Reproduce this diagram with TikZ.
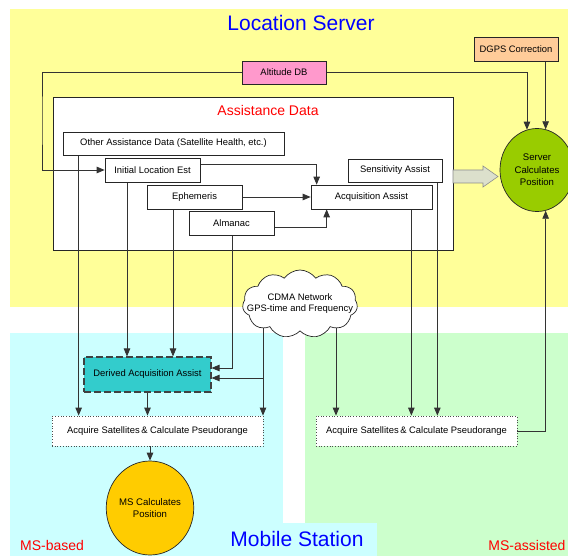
\documentclass[tikz,border=0pt]{standalone}
\usepackage{fontspec}
\setmainfont{Liberation Sans}
\usepackage{tikz}
\usetikzlibrary{shapes.geometric,shapes.symbols,arrows.meta,calc}
\pgfdeclarelayer{back}
\pgfdeclarelayer{wires}
\pgfsetlayers{back,wires,main}

\definecolor{srvyellow}{HTML}{FFFF99}
\definecolor{msbcyan}{HTML}{CCFFFF}
\definecolor{msagreen}{HTML}{CCFFCC}
\definecolor{altpink}{HTML}{FF99CC}
\definecolor{dgpspeach}{HTML}{FFCC99}
\definecolor{dertea}{HTML}{33CCCC}
\definecolor{srvgreen}{HTML}{99CC00}
\definecolor{msorange}{HTML}{FFCC00}
\definecolor{fatgrey}{HTML}{DCE0CC}
\newcommand{\boxfont}{\fontsize{9.4}{11}\selectfont}
\newcommand{\tight}[1]{\makebox[0pt]{#1}}

\tikzset{
  infobox/.style={draw=black!85,fill=white,line width=0.7pt,inner sep=0pt,font=\boxfont},
  calcbox/.style={infobox,draw=black!70,dotted,line width=0.8pt},
  calcell/.style={ellipse,draw=black!85,line width=0.7pt,inner sep=0pt,align=center,
    font=\fontsize{9.6}{12.5}\selectfont},
  wire/.style={draw=black!80,line width=0.8pt,-{Triangle[length=8pt,width=6.5pt]}},
  bigtitle/.style={text=blue,font=\fontsize{21}{24}\selectfont},
  redtitle/.style={text=red,font=\fontsize{14}{16}\selectfont}
}

\begin{document}
\begin{tikzpicture}[x=1pt,y=-1pt]
\useasboundingbox (0,0) rectangle (568,556);

% regions
\begin{pgfonlayer}{back}
\fill[srvyellow] (10,9) rectangle (568,307);
\fill[msagreen] (305,333) rectangle (568,556);
\fill[msbcyan] (10,333) rectangle (283,556);
\fill[msbcyan] (283,523) rectangle (377,556);
\node[draw=black!85,fill=white,line width=0.7pt,minimum width=400,minimum height=153,inner sep=0pt]
  (adbox) at (253,173.5) {};
\end{pgfonlayer}

% titles
\node[bigtitle] (lstitle) at (301,23) {Location Server};
\node[redtitle] (adtitle) at (268,110) {Assistance Data};
\node[bigtitle] (mstitle) at (297,539) {Mobile Station};
\node[redtitle] (msbtitle) at (52,545) {MS-based};
\node[redtitle] (msatitle) at (527,545) {MS-assisted};

% server side
\node[infobox,fill=altpink,minimum width=84,minimum height=23] (alt) at (284,72.5) {Altitude DB};
\node[infobox,fill=dgpspeach,minimum width=84,minimum height=24] (dgps) at (516,49) {DGPS Correction};
\node[calcell,fill=srvgreen,minimum width=74,minimum height=83] (srv) at (537,170) {Server\\Calculates\\Position};

\node[infobox,minimum width=221,minimum height=23] (oad) at (173.5,143.5) {Other Assistance Data (Satellite Health, etc.)};
\node[infobox,minimum width=95,minimum height=24] (ile) at (152.5,170) {Initial Location Est};
\node[infobox,minimum width=95,minimum height=24] (eph) at (194.5,197) {Ephemeris};
\node[infobox,minimum width=85,minimum height=24] (alm) at (231.5,223) {Almanac};
\node[infobox,minimum width=94,minimum height=23] (sen) at (395,170.5) {Sensitivity Assist};
\node[infobox,minimum width=121,minimum height=24] (acq) at (371.5,197) {Acquisition Assist};

% wide arrow from the assistance data to the server
\filldraw[draw=black!45,fill=fatgrey,line width=0.6pt]
  (453,170) -- (483,170) -- (483,166) -- (498,176.5) -- (483,187) -- (483,183) -- (453,183) -- cycle;

% network
\node[cloud,draw=black!85,fill=white,line width=0.7pt,cloud puffs=11,cloud puff arc=110,aspect=1.7,
  minimum width=115,minimum height=68,inner sep=0pt,align=center,font=\boxfont] (cdma) at (300,304)
  {\tight{CDMA Network}\\\tight{GPS-time and Frequency}};
\coordinate (cl) at (263,304);
\coordinate (cr) at (336,304);
\coordinate (j1) at (263,378);
\coordinate (j2) at (232,368);
\coordinate (k1) at (42,120);

% mobile station side
\node[infobox,fill=dertea,draw=black!75,dashed,dash pattern=on 7pt off 3pt,line width=1.1pt,
  minimum width=127,minimum height=35] (der) at (147.5,374.5) {Derived Acquisition Assist};
\node[calcbox,minimum width=211,minimum height=30] (acqb) at (157.5,431) {Acquire Satellites\,\& Calculate Pseudorange};
\node[calcbox,minimum width=201,minimum height=30] (acqa) at (416.5,431) {Acquire Satellites\,\& Calculate Pseudorange};
\node[calcell,fill=msorange,minimum width=78,minimum height=94] (mscp) at (150,508) {MS Calculates\\Position};

\begin{pgfonlayer}{wires}
\draw[wire] (alt.west) -| (k1) |- (ile.west);
\draw[wire] (alt.east) -| (srv.104);
\draw[wire] (srv.78 |- dgps.south) -- (srv.78);
\draw[wire] ([yshift=6pt]ile.east) -| ([xshift=6pt]acq.north west);
\draw[wire] (eph) -- (acq);
\draw[wire] ([yshift=-4pt]alm.east) -| ([xshift=16pt]acq.south west);
\draw[wire] ([xshift=-21pt]acq.south east) -- ([xshift=-21pt]acq.south east |- acqa.north);
\draw[wire] ([xshift=-5pt]sen.south east) -- ([xshift=-5pt]sen.south east |- acqa.north);
\draw[wire] (acqa.east) -| (srv.282);
\draw[wire] (cr) -- (cr |- acqa.north);
\draw[wire] (cl) -- (cl |- acqb.north);
\draw[wire] (j1) -- (j1 -| der.east);
\draw[wire] (alm.south -| j2) -- (j2) -- (j2 -| der.east);
\draw[wire] ([xshift=16pt]oad.south west) -- ([xshift=16pt]oad.south west |- acqb.north);
\draw[wire] ([xshift=-25.5pt]ile.south) -- ([xshift=-25.5pt]ile.south |- der.north);
\draw[wire] ([xshift=-21.5pt]eph.south) -- ([xshift=-21.5pt]eph.south |- der.north);
\draw[wire] (der.south) -- (der.south |- acqb.north);
\draw[wire] (mscp.north |- acqb.south) -- (mscp.north);
\end{pgfonlayer}
\end{tikzpicture}
\end{document}
